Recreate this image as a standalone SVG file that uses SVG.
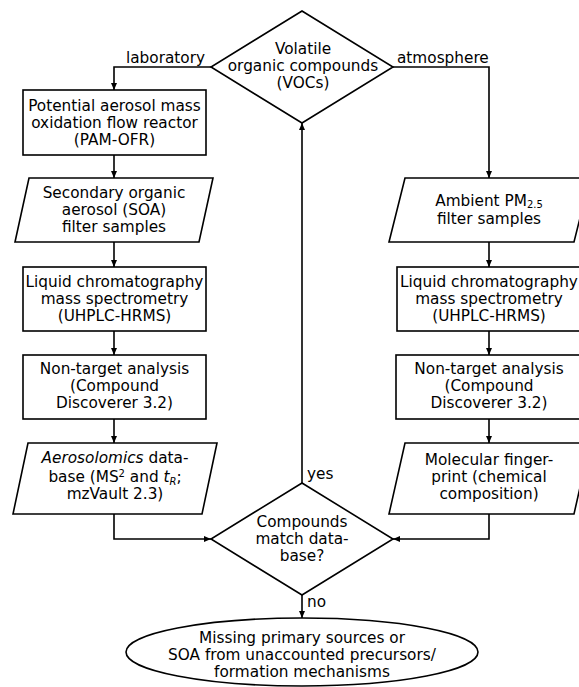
<svg xmlns="http://www.w3.org/2000/svg" width="579" height="687" viewBox="0 0 579 687">
<defs>
<style>
.s{fill:#fff;stroke:#000;stroke-width:1.6}
.c{fill:none;stroke:#000;stroke-width:1.6}
text{font-family:"DejaVu Sans","Liberation Sans",sans-serif;font-size:15.3px;fill:#000}
.m{text-anchor:middle}
.sub{font-size:10px}
</style>
<marker id="ah" viewBox="0 -3 7 6" refX="7" refY="0" markerWidth="7" markerHeight="6" markerUnits="userSpaceOnUse" orient="auto">
<path d="M0,-3 L7,0 L0,3 z" fill="#000"/>
</marker>
</defs>
<rect width="579" height="687" fill="#fff"/>
<g id="connectors">
<polyline class="c" points="211,67 114,67 114,90" marker-end="url(#ah)"/>
<polyline class="c" points="393,67 489,67 489,178" marker-end="url(#ah)"/>
<line class="c" x1="114" y1="155" x2="114" y2="178" marker-end="url(#ah)"/>
<line class="c" x1="114" y1="242" x2="114" y2="267" marker-end="url(#ah)"/>
<line class="c" x1="114" y1="331" x2="114" y2="355" marker-end="url(#ah)"/>
<line class="c" x1="114" y1="419" x2="114" y2="443" marker-end="url(#ah)"/>
<polyline class="c" points="114,514 114,539 211,539" marker-end="url(#ah)"/>
<line class="c" x1="489" y1="242" x2="489" y2="267" marker-end="url(#ah)"/>
<line class="c" x1="489" y1="331" x2="489" y2="355" marker-end="url(#ah)"/>
<line class="c" x1="489" y1="419" x2="489" y2="443" marker-end="url(#ah)"/>
<polyline class="c" points="489,514 489,539 393,539" marker-end="url(#ah)"/>
<line class="c" x1="302" y1="483" x2="302" y2="123" marker-end="url(#ah)"/>
<line class="c" x1="302" y1="595" x2="302" y2="618" marker-end="url(#ah)"/>
<text x="205" y="63" text-anchor="end">laboratory</text>
<text x="397" y="63">atmosphere</text>
<text x="307" y="479">yes</text>
<text x="307" y="607">no</text>
</g>
<g id="vocs">
<polygon class="s" points="302,11 393,67 302,123 211,67"/>
<text class="m" x="303" y="54">Volatile</text>
<text class="m" x="303" y="71">organic compounds</text>
<text class="m" x="303" y="88">(VOCs)</text>
</g>
<g id="pam">
<rect class="s" x="23" y="90" width="183" height="65"/>
<text class="m" x="114.5" y="111">Potential aerosol mass</text>
<text class="m" x="114.5" y="128">oxidation flow reactor</text>
<text class="m" x="114.5" y="145">(PAM-OFR)</text>
</g>
<g id="soa">
<polygon class="s" points="29,178 213,178 199,242 15,242"/>
<text class="m" x="114" y="198">Secondary organic</text>
<text class="m" x="114" y="215">aerosol (SOA)</text>
<text class="m" x="114" y="232">filter samples</text>
</g>
<g id="lc-left">
<rect class="s" x="23" y="267" width="183" height="64"/>
<text class="m" x="114.5" y="287">Liquid chromatography</text>
<text class="m" x="114.5" y="304">mass spectrometry</text>
<text class="m" x="114.5" y="321">(UHPLC-HRMS)</text>
</g>
<g id="nta-left">
<rect class="s" x="23" y="355" width="183" height="64"/>
<text class="m" x="114.5" y="374">Non-target analysis</text>
<text class="m" x="114.5" y="391">(Compound</text>
<text class="m" x="114.5" y="408">Discoverer 3.2)</text>
</g>
<g id="aerosolomics">
<polygon class="s" points="28,443 217,443 202,514 13,514"/>
<text class="m" x="115" y="463"><tspan font-style="italic">Aerosolomics</tspan> data-</text>
<text class="m" x="115" y="482">base (MS<tspan class="sub" dy="-5">2</tspan><tspan dy="5"> and </tspan><tspan font-style="italic">t</tspan><tspan class="sub" font-style="italic" dy="3">R</tspan><tspan dy="-3">;</tspan></text>
<text class="m" x="115" y="499">mzVault 2.3)</text>
</g>
<g id="pm25">
<polygon class="s" points="405,178 590,178 574,242 389,242"/>
<text class="m" x="489" y="206">Ambient PM<tspan class="sub" dy="2">2.5</tspan></text>
<text class="m" x="489" y="224">filter samples</text>
</g>
<g id="lc-right">
<rect class="s" x="397" y="267" width="184" height="64"/>
<text class="m" x="489" y="287">Liquid chromatography</text>
<text class="m" x="489" y="304">mass spectrometry</text>
<text class="m" x="489" y="321">(UHPLC-HRMS)</text>
</g>
<g id="nta-right">
<rect class="s" x="396" y="355" width="185" height="64"/>
<text class="m" x="489" y="374">Non-target analysis</text>
<text class="m" x="489" y="391">(Compound</text>
<text class="m" x="489" y="408">Discoverer 3.2)</text>
</g>
<g id="fingerprint">
<polygon class="s" points="405,443 590,443 574,514 389,514"/>
<text class="m" x="489" y="465">Molecular finger-</text>
<text class="m" x="489" y="482">print (chemical</text>
<text class="m" x="489" y="499">composition)</text>
</g>
<g id="match">
<polygon class="s" points="302,483 393,539 302,595 211,539"/>
<text class="m" x="302" y="527">Compounds</text>
<text class="m" x="302" y="544">match data-</text>
<text class="m" x="302" y="561">base?</text>
</g>
<g id="missing">
<ellipse class="s" cx="302" cy="652" rx="176" ry="34"/>
<text class="m" x="302" y="643">Missing primary sources or</text>
<text class="m" x="302" y="660">SOA from unaccounted precursors/</text>
<text class="m" x="302" y="677">formation mechanisms</text>
</g>
</svg>
